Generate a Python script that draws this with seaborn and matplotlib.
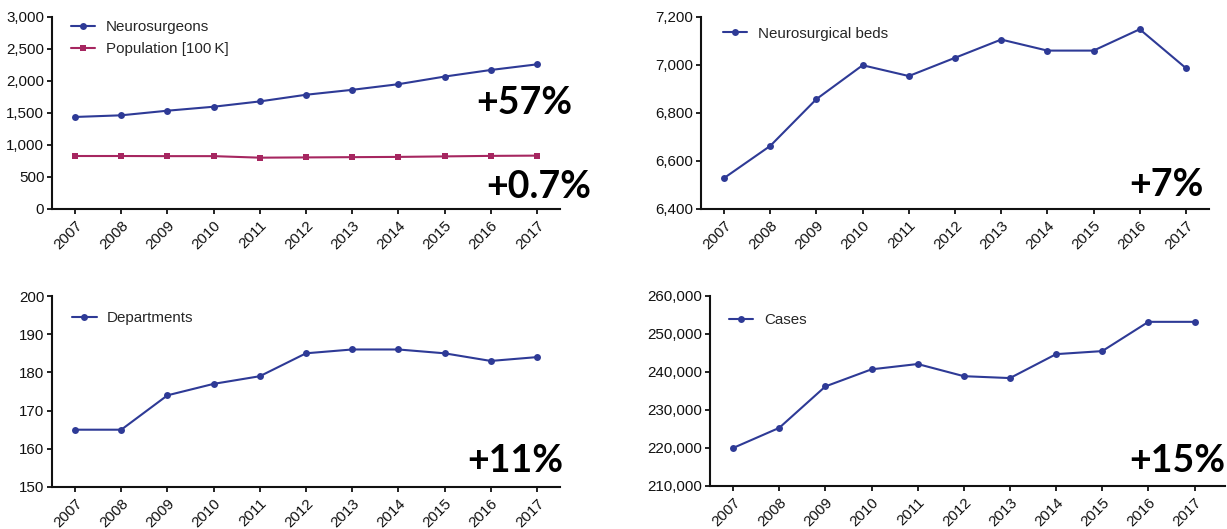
import pandas as pd
import numpy as np
import matplotlib
matplotlib.use('Agg')
import matplotlib.pyplot as plt
from matplotlib.ticker import FuncFormatter
import seaborn as sns

years = [2007, 2008, 2009, 2010, 2011, 2012, 2013, 2014, 2015, 2016, 2017]
neurosurgeons = [1438, 1464, 1536, 1598, 1681, 1785, 1862, 1950, 2069, 2172, 2260]
population = [828, 828, 826, 826, 802, 806, 810, 814, 822, 830, 834]
beds = [6529, 6663, 6858, 6999, 6954, 7030, 7106, 7060, 7060, 7149, 6987]
departments = [165, 165, 174, 177, 179, 185, 186, 186, 185, 183, 184]
cases = [220000, 225300, 236200, 240700, 242100, 238900, 238400, 244700, 245500, 253200, 253200]

blue = '#2E3A96'
pink = '#A62660'

sns.set_style('ticks')
plt.rcParams['font.family'] = ['Liberation Sans', 'DejaVu Sans']

W, H = 1227, 529
fig = plt.figure(figsize=(W / 100, H / 100), dpi=100)

def px_axes(x0, x1, ytop, ybot):
    return fig.add_axes([x0 / W, 1 - ybot / H, (x1 - x0) / W, (ybot - ytop) / H])

ax_tl = px_axes(52, 560, 17, 209)
ax_tr = px_axes(701, 1209, 17, 209)
ax_bl = px_axes(52, 560, 296, 487)
ax_br = px_axes(710, 1225, 296, 486)

comma = FuncFormatter(lambda v, p: f'{int(v):,}')

def style(ax, yticks, xright=2017.5):
    ax.set_xlim(2006.5, xright)
    ax.set_ylim(yticks[0], yticks[-1])
    ax.set_yticks(yticks)
    ax.yaxis.set_major_formatter(comma)
    ax.set_xticks(years)
    ax.set_xticklabels([str(y) for y in years], rotation=45, ha='right',
                       rotation_mode='anchor')
    ax.tick_params(axis='both', labelsize=10.9, width=1.3, length=3.5,
                   color='#111111', labelcolor='#111111', pad=2)
    ax.tick_params(axis='x', pad=3)
    for s in ['left', 'bottom']:
        ax.spines[s].set_linewidth(1.5)
        ax.spines[s].set_color('#111111')
    sns.despine(ax=ax)
    ax.set_xlabel('')
    ax.set_ylabel('')

def legend(ax, x, y):
    ax.legend(loc='upper left', bbox_to_anchor=(x, y), frameon=False,
              fontsize=10.9, handlelength=1.6, handletextpad=0.7,
              borderpad=0, borderaxespad=0, labelspacing=0.55)

def big(ax, x, y, s):
    ax.text(x, y, s, transform=ax.transAxes, ha='right', va='center',
            fontsize=27, fontweight='bold', family=['Lato', 'DejaVu Sans'],
            color='black', clip_on=False)

line_kw = dict(linewidth=1.5, markersize=5, markeredgewidth=0)

# top left
sns.lineplot(x=years, y=neurosurgeons, ax=ax_tl, color=blue, marker='o',
             label='Neurosurgeons', **line_kw)
sns.lineplot(x=years, y=population, ax=ax_tl, color=pink, marker='s',
             label='Population [100\u2009K]', **line_kw)
style(ax_tl, np.arange(0, 3001, 500))
legend(ax_tl, 0.037, 0.985)
big(ax_tl, 1.024, 0.55, '+57%')
big(ax_tl, 1.061, 0.115, '+0.7%')

# top right
sns.lineplot(x=years, y=beds, ax=ax_tr, color=blue, marker='o',
             label='Neurosurgical beds', **line_kw)
style(ax_tr, np.arange(6400, 7201, 200))
legend(ax_tr, 0.043, 0.95)
big(ax_tr, 0.99, 0.125, '+7%')

# bottom left
sns.lineplot(x=years, y=departments, ax=ax_bl, color=blue, marker='o',
             label='Departments', **line_kw)
style(ax_bl, np.arange(150, 201, 10))
legend(ax_bl, 0.04, 0.92)
big(ax_bl, 1.006, 0.136, '+11%')

# bottom right
sns.lineplot(x=years, y=cases, ax=ax_br, color=blue, marker='o',
             label='Cases', **line_kw)
style(ax_br, np.arange(210000, 260001, 10000), xright=2017.66)
legend(ax_br, 0.037, 0.91)
big(ax_br, 1.0, 0.13, '+15%')

fig.savefig('out.png', dpi=100)
